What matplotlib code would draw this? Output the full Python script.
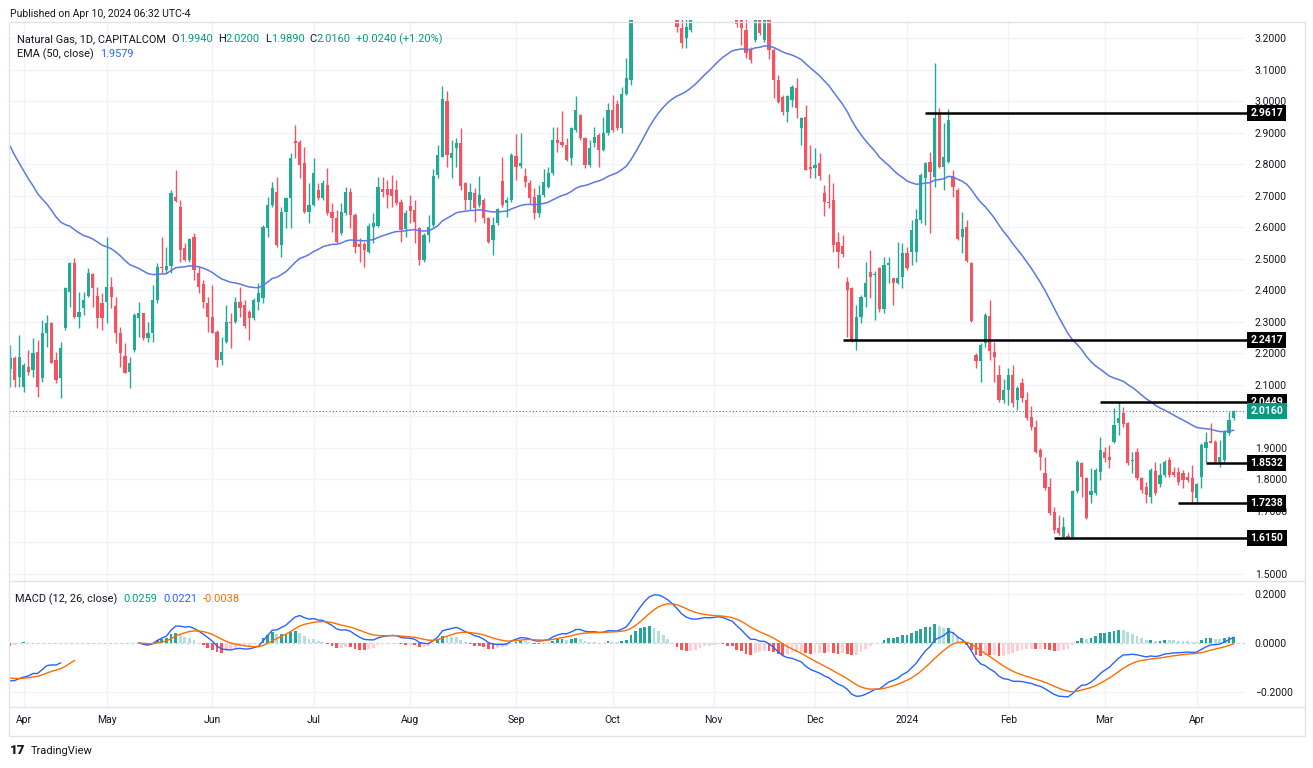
import numpy as np
import matplotlib.pyplot as plt
from matplotlib.patches import Rectangle
from matplotlib.lines import Line2D

plt.rcParams['font.family'] = ['Roboto', 'DejaVu Sans']

# ---- data ----
opens = [
    2.149, 2.184, 2.126, 2.094, 2.158, 2.147, 2.205, 2.121, 2.263, 2.297,
    2.179, 2.121, 2.279, 2.395, 2.485, 2.316, 2.343, 2.382, 2.452, 2.382,
    2.361, 2.364, 2.411, 2.350, 2.265, 2.191, 2.142, 2.210, 2.311, 2.327,
    2.247, 2.263, 2.369, 2.475, 2.464, 2.477, 2.697, 2.665, 2.533, 2.496,
    2.570, 2.456, 2.420, 2.358, 2.316, 2.269, 2.179, 2.237, 2.300, 2.300,
    2.364, 2.353, 2.332, 2.311, 2.364, 2.374, 2.596, 2.670, 2.713, 2.544,
    2.649, 2.692, 2.874, 2.871, 2.803, 2.649, 2.670, 2.718, 2.692, 2.734,
    2.649, 2.628, 2.581, 2.644, 2.713, 2.639, 2.547, 2.547, 2.522, 2.602,
    2.604, 2.720, 2.720, 2.720, 2.718, 2.681, 2.593, 2.667, 2.654, 2.596,
    2.496, 2.575, 2.607, 2.765, 2.824, 3.001, 2.818, 2.850, 2.866, 2.739,
    2.686, 2.707, 2.670, 2.686, 2.628, 2.559, 2.612, 2.746, 2.678, 2.686,
    2.826, 2.794, 2.762, 2.741, 2.697, 2.644, 2.702, 2.729, 2.771, 2.877,
    2.869, 2.861, 2.818, 2.908, 2.956, 2.882, 2.797, 2.866, 2.892, 2.845,
    2.898, 2.972, 2.991, 2.914, 3.022, 3.067, 3.310, 3.430, 3.500, 3.560,
    3.580, 3.520, 3.470, 3.400, 3.360, 3.300, 3.231, 3.199, 3.226, 3.300,
    3.360, 3.420, 3.460, 3.420, 3.470, 3.500, 3.450, 3.400, 3.400, 3.300,
    3.225, 3.162, 3.194, 3.280, 3.194, 3.270, 3.162, 3.067, 3.014, 2.966,
    3.003, 3.040, 2.914, 2.950, 2.790, 2.787, 2.805, 2.709, 2.681, 2.686,
    2.554, 2.540, 2.427, 2.406, 2.242, 2.316, 2.380, 2.459, 2.448, 2.469,
    2.342, 2.480, 2.438, 2.422, 2.443, 2.517, 2.522, 2.522, 2.623, 2.755,
    2.808, 2.760, 2.963, 2.792, 2.808, 2.760, 2.718, 2.570, 2.602, 2.485,
    2.195, 2.174, 2.232, 2.318, 2.205, 2.131, 2.052, 2.084, 2.131, 2.052,
    2.105, 2.052, 1.999, 1.967, 1.893, 1.819, 1.777, 1.698, 1.645, 1.618,
    1.622, 1.618, 1.764, 1.853, 1.803, 1.751, 1.756, 1.825, 1.888, 1.872,
    1.920, 1.978, 2.012, 1.978, 1.859, 1.888, 1.803, 1.775, 1.745, 1.828,
    1.785, 1.814, 1.862, 1.825, 1.825, 1.821, 1.809, 1.803, 1.740, 1.809,
    1.899, 1.922, 1.920, 1.856, 1.862, 1.946, 1.994]

highs = [
    2.226, 2.190, 2.258, 2.168, 2.210, 2.247, 2.242, 2.306, 2.321, 2.300,
    2.205, 2.237, 2.411, 2.491, 2.501, 2.395, 2.395, 2.470, 2.454, 2.411,
    2.390, 2.570, 2.443, 2.380, 2.284, 2.232, 2.189, 2.327, 2.364, 2.329,
    2.300, 2.417, 2.487, 2.570, 2.538, 2.718, 2.781, 2.686, 2.549, 2.565,
    2.583, 2.475, 2.433, 2.380, 2.417, 2.274, 2.253, 2.353, 2.327, 2.380,
    2.411, 2.369, 2.337, 2.375, 2.422, 2.607, 2.697, 2.744, 2.758, 2.665,
    2.697, 2.834, 2.924, 2.876, 2.855, 2.739, 2.818, 2.739, 2.750, 2.787,
    2.676, 2.655, 2.676, 2.729, 2.723, 2.644, 2.565, 2.554, 2.612, 2.644,
    2.758, 2.760, 2.750, 2.765, 2.750, 2.688, 2.655, 2.702, 2.686, 2.600,
    2.580, 2.639, 2.783, 2.861, 3.048, 3.033, 2.877, 2.882, 2.914, 2.744,
    2.739, 2.723, 2.762, 2.692, 2.633, 2.633, 2.660, 2.824, 2.697, 2.834,
    2.895, 2.898, 2.787, 2.750, 2.723, 2.734, 2.783, 2.792, 2.919, 2.919,
    2.970, 2.882, 2.919, 3.016, 2.960, 2.887, 2.877, 2.919, 2.898, 2.951,
    2.993, 3.019, 3.003, 3.046, 3.136, 3.330, 3.470, 3.540, 3.600, 3.630,
    3.600, 3.540, 3.490, 3.430, 3.380, 3.340, 3.280, 3.260, 3.350, 3.390,
    3.450, 3.490, 3.480, 3.490, 3.520, 3.530, 3.470, 3.440, 3.420, 3.340,
    3.280, 3.173, 3.350, 3.320, 3.330, 3.300, 3.167, 3.083, 3.019, 3.019,
    3.051, 3.072, 2.951, 2.987, 2.860, 2.850, 2.834, 2.734, 2.769, 2.739,
    2.586, 2.575, 2.443, 2.411, 2.353, 2.385, 2.491, 2.528, 2.460, 2.475,
    2.506, 2.506, 2.440, 2.554, 2.549, 2.538, 2.623, 2.657, 2.773, 2.808,
    2.839, 3.120, 2.977, 2.929, 2.974, 2.781, 2.723, 2.649, 2.623, 2.491,
    2.200, 2.232, 2.327, 2.369, 2.237, 2.163, 2.117, 2.152, 2.163, 2.096,
    2.121, 2.078, 2.033, 1.988, 1.899, 1.872, 1.803, 1.714, 1.687, 1.680,
    1.630, 1.768, 1.862, 1.856, 1.809, 1.835, 1.835, 1.936, 1.904, 1.909,
    2.025, 2.045, 2.031, 1.983, 1.888, 1.899, 1.809, 1.793, 1.835, 1.856,
    1.851, 1.862, 1.872, 1.840, 1.840, 1.830, 1.825, 1.846, 1.788, 1.917,
    1.951, 1.978, 1.925, 1.925, 1.957, 2.015, 2.020]

lows = [
    2.094, 2.094, 2.094, 2.078, 2.131, 2.126, 2.062, 2.110, 2.221, 2.168,
    2.105, 2.057, 2.274, 2.348, 2.311, 2.279, 2.321, 2.380, 2.348, 2.279,
    2.274, 2.295, 2.343, 2.232, 2.158, 2.136, 2.089, 2.205, 2.253, 2.242,
    2.237, 2.237, 2.358, 2.454, 2.454, 2.454, 2.681, 2.491, 2.494, 2.491,
    2.433, 2.390, 2.343, 2.269, 2.263, 2.158, 2.163, 2.232, 2.216, 2.295,
    2.316, 2.279, 2.242, 2.306, 2.337, 2.358, 2.570, 2.665, 2.538, 2.507,
    2.596, 2.596, 2.818, 2.755, 2.644, 2.612, 2.667, 2.686, 2.686, 2.639,
    2.586, 2.549, 2.575, 2.639, 2.596, 2.517, 2.491, 2.475, 2.517, 2.549,
    2.602, 2.697, 2.660, 2.665, 2.670, 2.554, 2.570, 2.612, 2.549, 2.480,
    2.491, 2.554, 2.602, 2.755, 2.822, 2.792, 2.755, 2.792, 2.718, 2.655,
    2.655, 2.617, 2.665, 2.612, 2.549, 2.512, 2.607, 2.665, 2.633, 2.681,
    2.750, 2.787, 2.729, 2.678, 2.625, 2.633, 2.697, 2.723, 2.765, 2.840,
    2.855, 2.811, 2.797, 2.903, 2.876, 2.787, 2.792, 2.855, 2.792, 2.843,
    2.892, 2.903, 2.908, 2.898, 3.019, 3.050, 3.290, 3.400, 3.470, 3.520,
    3.480, 3.430, 3.370, 3.330, 3.270, 3.220, 3.167, 3.167, 3.220, 3.280,
    3.340, 3.400, 3.400, 3.400, 3.440, 3.430, 3.380, 3.380, 3.235, 3.178,
    3.136, 3.120, 3.188, 3.210, 3.188, 3.132, 3.009, 2.993, 2.956, 2.935,
    2.982, 2.945, 2.861, 2.780, 2.755, 2.755, 2.750, 2.635, 2.660, 2.522,
    2.469, 2.506, 2.253, 2.237, 2.210, 2.295, 2.348, 2.374, 2.305, 2.332,
    2.327, 2.422, 2.353, 2.420, 2.406, 2.464, 2.480, 2.491, 2.612, 2.607,
    2.583, 2.728, 2.787, 2.718, 2.802, 2.697, 2.559, 2.519, 2.491, 2.300,
    2.152, 2.110, 2.221, 2.179, 2.110, 2.047, 2.041, 2.036, 2.031, 2.020,
    2.047, 1.988, 1.957, 1.883, 1.830, 1.766, 1.687, 1.629, 1.624, 1.617,
    1.615, 1.615, 1.756, 1.745, 1.673, 1.724, 1.751, 1.798, 1.856, 1.835,
    1.914, 1.941, 1.967, 1.846, 1.819, 1.798, 1.756, 1.726, 1.726, 1.751,
    1.777, 1.809, 1.809, 1.809, 1.782, 1.772, 1.793, 1.729, 1.724, 1.772,
    1.856, 1.914, 1.853, 1.840, 1.856, 1.941, 1.989]

closes = [
    2.184, 2.115, 2.189, 2.163, 2.142, 2.200, 2.094, 2.263, 2.295, 2.170,
    2.115, 2.216, 2.406, 2.487, 2.316, 2.332, 2.369, 2.454, 2.406, 2.311,
    2.311, 2.411, 2.380, 2.263, 2.200, 2.139, 2.170, 2.321, 2.327, 2.247,
    2.265, 2.369, 2.475, 2.469, 2.477, 2.707, 2.684, 2.528, 2.496, 2.561,
    2.464, 2.411, 2.364, 2.316, 2.263, 2.179, 2.205, 2.300, 2.295, 2.364,
    2.343, 2.285, 2.311, 2.369, 2.390, 2.602, 2.670, 2.723, 2.544, 2.649,
    2.692, 2.818, 2.866, 2.797, 2.649, 2.670, 2.771, 2.692, 2.739, 2.644,
    2.628, 2.554, 2.649, 2.713, 2.639, 2.538, 2.538, 2.528, 2.604, 2.612,
    2.726, 2.710, 2.702, 2.699, 2.676, 2.591, 2.644, 2.652, 2.618, 2.496,
    2.575, 2.602, 2.762, 2.829, 3.007, 2.829, 2.836, 2.868, 2.731, 2.686,
    2.713, 2.660, 2.702, 2.628, 2.554, 2.607, 2.657, 2.670, 2.686, 2.829,
    2.792, 2.803, 2.744, 2.692, 2.644, 2.702, 2.744, 2.771, 2.877, 2.868,
    2.861, 2.813, 2.914, 2.972, 2.882, 2.797, 2.850, 2.887, 2.845, 2.898,
    2.972, 2.908, 2.914, 3.022, 3.072, 3.310, 3.430, 3.500, 3.560, 3.580,
    3.520, 3.470, 3.400, 3.360, 3.300, 3.236, 3.183, 3.234, 3.300, 3.360,
    3.420, 3.460, 3.420, 3.470, 3.500, 3.450, 3.400, 3.400, 3.245, 3.231,
    3.151, 3.130, 3.300, 3.215, 3.280, 3.162, 3.067, 2.998, 2.966, 3.016,
    3.046, 2.977, 2.945, 2.781, 2.783, 2.797, 2.762, 2.681, 2.676, 2.543,
    2.522, 2.515, 2.401, 2.242, 2.316, 2.380, 2.422, 2.443, 2.453, 2.342,
    2.480, 2.487, 2.422, 2.438, 2.517, 2.469, 2.591, 2.625, 2.765, 2.802,
    2.776, 2.945, 2.792, 2.824, 2.940, 2.728, 2.561, 2.593, 2.494, 2.303,
    2.174, 2.226, 2.321, 2.208, 2.189, 2.052, 2.084, 2.131, 2.041, 2.089,
    2.057, 1.994, 1.967, 1.888, 1.872, 1.772, 1.692, 1.640, 1.629, 1.650,
    1.618, 1.764, 1.856, 1.809, 1.677, 1.764, 1.830, 1.893, 1.867, 1.862,
    1.973, 1.994, 1.976, 1.851, 1.862, 1.803, 1.766, 1.751, 1.830, 1.756,
    1.814, 1.856, 1.814, 1.814, 1.793, 1.798, 1.798, 1.761, 1.785, 1.909,
    1.920, 1.917, 1.856, 1.872, 1.951, 1.990, 2.016]

# month labels and the bar where each month starts
month_labels = ['Apr', 'May', 'Jun', 'Jul', 'Aug', 'Sep', 'Oct', 'Nov', 'Dec',
                '2024', 'Feb', 'Mar', 'Apr']
month_bars = [3, 21, 44, 66, 87, 110, 131, 153, 175, 195, 217, 238, 258]

# drawn support / resistance levels: price and first bar
level_prices = [2.9617, 2.2417, 2.0449, 1.8532, 1.7238, 1.6150]
level_start = [199, 181, 237, 260, 254, 227]

last_price = 2.0160

# price scale labels hidden under the level boxes in the original
hidden_ticks = [2.0, 1.6]

# indicator seeds (value of each average before the first bar shown)
ema50_seed = 2.885
macd_a_seeds = (2.26, 2.42, -0.14)   # ema12, ema26, signal for the first stretch
macd_b_start = 28                    # MACD restarts here

# ---- colours ----
UP = '#22ab94'
DOWN = '#f7525f'
GRID = '#f0f3fa'
TXT = '#131722'
TEAL = '#089981'


def ema(vals, seed, n):
    a = 2.0 / (n + 1)
    out = []
    p = seed
    for v in vals:
        p = p + a * (v - p)
        out.append(p)
    return np.array(out)


def hist_colors(h):
    cols = []
    prev = 0.0
    for v in h:
        if v >= 0:
            cols.append('#26a69a' if v >= prev else '#b2dfdb')
        else:
            cols.append('#ff5252' if v < prev else '#ffcdd2')
        prev = v
    return cols


o = np.array(opens)
hi = np.array(highs)
lo = np.array(lows)
c = np.array(closes)
x = np.arange(len(c))

ema50 = ema(c, ema50_seed, 50)

# first MACD stretch
e12a = ema(c[:15], macd_a_seeds[0], 12)
e26a = ema(c[:15], macd_a_seeds[1], 26)
macd_a = e12a - e26a
sig_a = ema(macd_a, macd_a_seeds[2], 9)
# second stretch, restarts from the close before it
s = macd_b_start
e12b = ema(c[s:], c[s - 1], 12)
e26b = ema(c[s:], c[s - 1], 26)
macd_b = e12b - e26b
sig_b = ema(macd_b, 0.0, 9)
xb = x[s:]

# ---- figure ----
W, H = 1313, 768


def fx(p):
    return p / W


def fy(p):
    return 1 - p / H


fig = plt.figure(figsize=(W / 100, H / 100), dpi=100)
L, R = 9, 1245
ax = fig.add_axes([fx(L), fy(581), fx(R) - fx(L), fy(20) - fy(581)])
axm = fig.add_axes([fx(L), fy(707), fx(R) - fx(L), fy(581) - fy(707)], sharex=ax)

xmin = -(10 - L) / 4.6
xmax = (R - 10) / 4.6
ax.set_xlim(xmin, xmax)
ax.set_ylim(3.2 - 543 / 315.3, 3.2 + 18 / 315.3)

# candles
cols = [UP if cc >= oo else DOWN for oo, cc in zip(o, c)]
ax.vlines(x, lo, hi, colors=cols, linewidth=1, zorder=3)
ax.bar(x, np.maximum(np.abs(c - o), 0.004), bottom=np.minimum(o, c), width=0.7,
       color=cols, linewidth=0, zorder=3)

ax.plot(x, ema50, color='#5b78e6', lw=1.1, zorder=4)

# levels
for p, st in zip(level_prices, level_start):
    ax.plot([st, xmax + 0.5], [p, p], color='black', lw=1.8, zorder=5,
            clip_on=False, solid_capstyle='butt')
ax.axhline(last_price, color=TEAL, lw=0.8, ls=(0, (1, 2)), zorder=2)

# grid / ticks main pane
yt = np.round(np.arange(1.5, 3.21, 0.1), 1)
ax.set_yticks(yt)
ax.set_yticklabels(['' if v in hidden_ticks else f'{v:.4f}' for v in yt])
ax.yaxis.tick_right()
ax.tick_params(axis='y', length=0, pad=7, labelsize=7.5, labelcolor=TXT)
ax.tick_params(axis='x', bottom=False, labelbottom=False)
ax.set_xticks(month_bars)
ax.grid(color=GRID, lw=1)
ax.set_axisbelow(True)
for sp in ax.spines.values():
    sp.set_visible(False)

# price boxes on the scale
tr = ax.get_yaxis_transform()
for p in level_prices:
    ax.text(1.0045, p, f'{p:.4f}', transform=tr, ha='left', va='center', color='white',
            fontsize=7.5, fontweight='bold', zorder=10, clip_on=False,
            bbox=dict(boxstyle='square,pad=0.3', fc='black', ec='none'))
ax.text(1.0045, last_price, f'{last_price:.4f}', transform=tr, ha='left', va='center',
        color='white', fontsize=7.5, fontweight='bold', zorder=10, clip_on=False,
        bbox=dict(boxstyle='square,pad=0.3', fc=TEAL, ec='none'))

# MACD pane
axm.set_ylim(-64 / 245, 62 / 245)
ha = macd_a[:4] - sig_a[:4]
axm.bar(x[:4], ha, width=0.6, color=hist_colors(ha), linewidth=0, zorder=3)
hb = macd_b - sig_b
axm.bar(xb, hb, width=0.6, color=hist_colors(hb), linewidth=0, zorder=3)
axm.plot(x[:12], macd_a[:12], color='#2962ff', lw=1, zorder=4)
axm.plot(x[:15], sig_a[:15], color='#ff6d00', lw=1, zorder=4)
axm.plot(xb, macd_b, color='#2962ff', lw=1, zorder=4)
axm.plot(xb, sig_b, color='#ff6d00', lw=1, zorder=4)
axm.axhline(0, color='#c9ccd4', lw=0.8, ls=(0, (2, 3)), zorder=2)

axm.set_yticks([-0.2, 0.0, 0.2])
axm.set_yticklabels(['\u22120.2000', '0.0000', '0.2000'])
axm.yaxis.tick_right()
axm.tick_params(axis='y', length=0, pad=7, labelsize=7.5, labelcolor=TXT)
axm.set_xticks(month_bars)
axm.set_xticklabels(month_labels)
axm.tick_params(axis='x', length=0, pad=6, labelsize=7.5, labelcolor=TXT)
axm.grid(color=GRID, lw=1)
axm.set_axisbelow(True)
for sp in axm.spines.values():
    sp.set_visible(False)

# frame and separators
fig.patches.append(Rectangle((fx(9), fy(736)), fx(1305) - fx(9), fy(22) - fy(736),
                             transform=fig.transFigure, fill=False, ec='#e0e3eb', lw=1))
for yy in (581, 707):
    fig.add_artist(Line2D([fx(9), fx(1305)], [fy(yy), fy(yy)], color='#e0e3eb', lw=1))

# legend text rows
renderer = fig.canvas.get_renderer()


def chain(x0, y0, parts, size):
    xx = x0
    for txt, col, gap in parts:
        t = fig.text(fx(xx), fy(y0), txt, color=col, fontsize=size, ha='left', va='center')
        xx += t.get_window_extent(renderer=renderer).width + gap


fig.text(fx(10), fy(14), 'Published on Apr 10, 2024 06:32 UTC-4', color=TXT,
         fontsize=7.5, ha='left', va='center')
chain(17, 39, [('Natural Gas, 1D, CAPITALCOM', TXT, 6),
               ('O', TXT, 0), ('1.9940', TEAL, 5),
               ('H', TXT, 0), ('2.0200', TEAL, 5),
               ('L', TXT, 0), ('1.9890', TEAL, 5),
               ('C', TXT, 0), ('2.0160', TEAL, 5),
               ('+0.0240 (+1.20%)', TEAL, 0)], 7.9)
chain(17, 54, [('EMA (50, close)', TXT, 6), ('1.9579', '#2962ff', 0)], 7.9)
chain(15, 599, [('MACD (12, 26, close)', TXT, 6), ('0.0259', TEAL, 6),
                ('0.0221', '#2962ff', 6), ('-0.0038', '#ff6d00', 0)], 7.9)

fig.text(fx(10), fy(751), '17', color=TXT, fontsize=9.5, fontweight='black',
         ha='left', va='center')
fig.text(fx(31), fy(751), 'TradingView', color=TXT, fontsize=8, ha='left', va='center')

fig.savefig('out.png', dpi=100, facecolor='white')
